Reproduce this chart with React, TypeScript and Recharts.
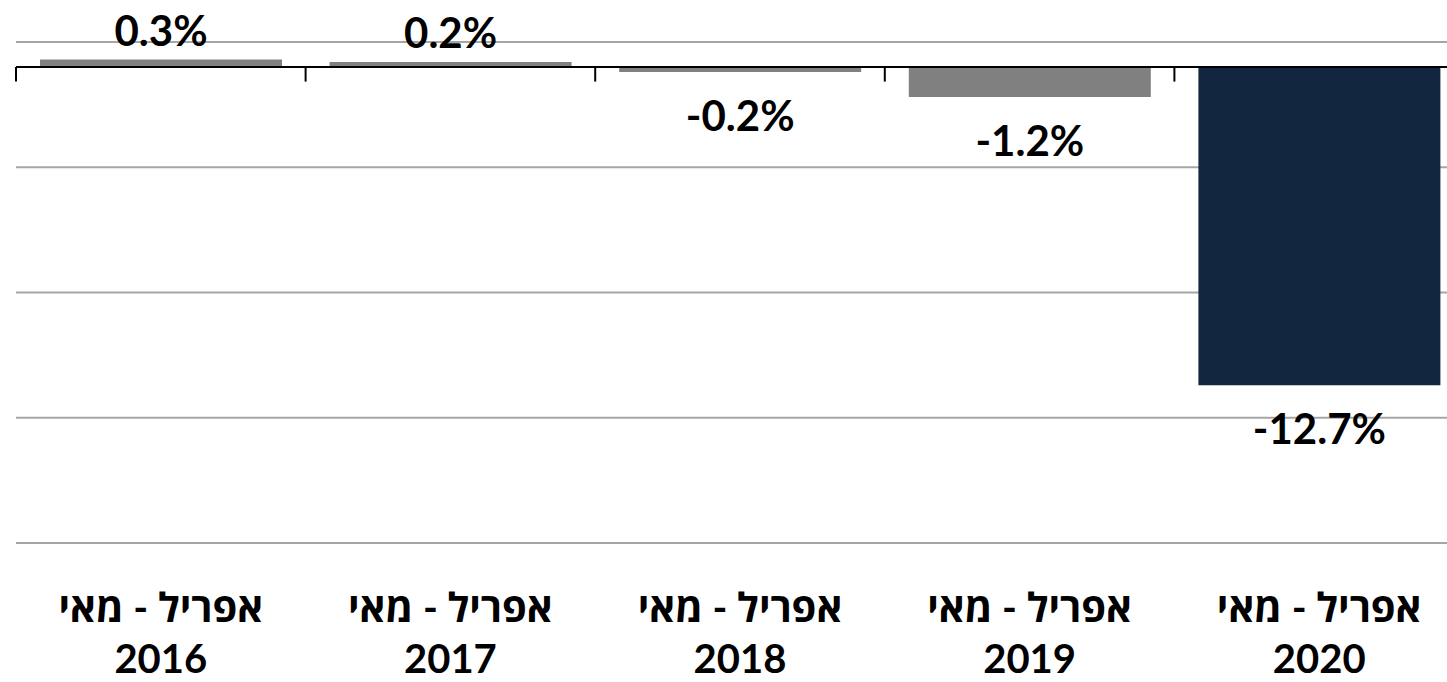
import { Bar, BarChart, CartesianGrid, Cell, LabelList, ReferenceLine, XAxis, YAxis } from "recharts";

const periods = ["אפריל - מאי", "אפריל - מאי", "אפריל - מאי", "אפריל - מאי", "אפריל - מאי"];
const years = ["2016", "2017", "2018", "2019", "2020"];
const changes = [0.3, 0.2, -0.2, -1.2, -12.7];
const gridValues = [1, -4, -9, -14, -19];

const data = years.map((year, i) => ({ year, period: periods[i], change: changes[i], idx: i }));
const boundaries = [...years.map((_, i) => i), years.length];

const FONT = "Lato, 'Open Sans', 'Liberation Sans', 'DejaVu Sans', sans-serif";

function CategoryTick({ x, y, payload }: any) {
  const row = data.find((d) => d.year === payload.value);
  return (
    <g>
      <text x={x} y={y + 79} textAnchor="middle" fontFamily={FONT} fontWeight={700} fontSize={40} fill="#000">
        {row ? row.period : ""}
      </text>
      <text x={x} y={y + 130} textAnchor="middle" fontFamily={FONT} fontWeight={700} fontSize={40} fill="#000">
        {payload.value}
      </text>
    </g>
  );
}

function ValueLabel(props: any) {
  const x = Number(props.x);
  const y = Number(props.y);
  const w = Number(props.width);
  const h = Number(props.height);
  const v = Number(props.value);
  const top = Math.min(y, y + h);
  const bottom = Math.max(y, y + h);
  const ty = v >= 0 ? top - 14 : bottom + 59;
  return (
    <text x={x + w / 2} y={ty} textAnchor="middle" fontFamily={FONT} fontWeight={700} fontSize={42} fill="#000">
      {v.toFixed(1)}%
    </text>
  );
}

export default function App() {
  return (
    <div style={{ position: "absolute", left: 0, top: 0, width: 1447, height: 682, overflow: "hidden", background: "#fff" }}>
      <BarChart width={1464} height={682} data={data} margin={{ top: 42, right: 0, bottom: 0, left: 16 }}>
        <CartesianGrid vertical={false} horizontalValues={gridValues} stroke="#a6a6a6" strokeWidth={2} />
        <XAxis
          dataKey="year"
          height={139}
          axisLine={false}
          tickLine={false}
          tickSize={0}
          tickMargin={0}
          interval={0}
          tick={<CategoryTick />}
        />
        <XAxis xAxisId="bounds" dataKey="idx" type="number" domain={[0, years.length]} allowDataOverflow hide />
        <YAxis domain={[-19, 1]} ticks={gridValues} allowDataOverflow hide />
        <Bar dataKey="change" barSize={242} isAnimationActive={false}>
          {data.map((d, i) => (
            <Cell key={d.year} fill={i === data.length - 1 ? "#13263f" : "#808080"} />
          ))}
          <LabelList dataKey="change" content={<ValueLabel />} />
        </Bar>
        <ReferenceLine y={0} stroke="#000" strokeWidth={2} />
        {boundaries.map((b) => (
          <ReferenceLine
            key={b}
            xAxisId="bounds"
            segment={[
              { x: b, y: 0 },
              { x: b, y: -0.58 },
            ]}
            stroke="#000"
            strokeWidth={2}
            ifOverflow="visible"
          />
        ))}
      </BarChart>
    </div>
  );
}
